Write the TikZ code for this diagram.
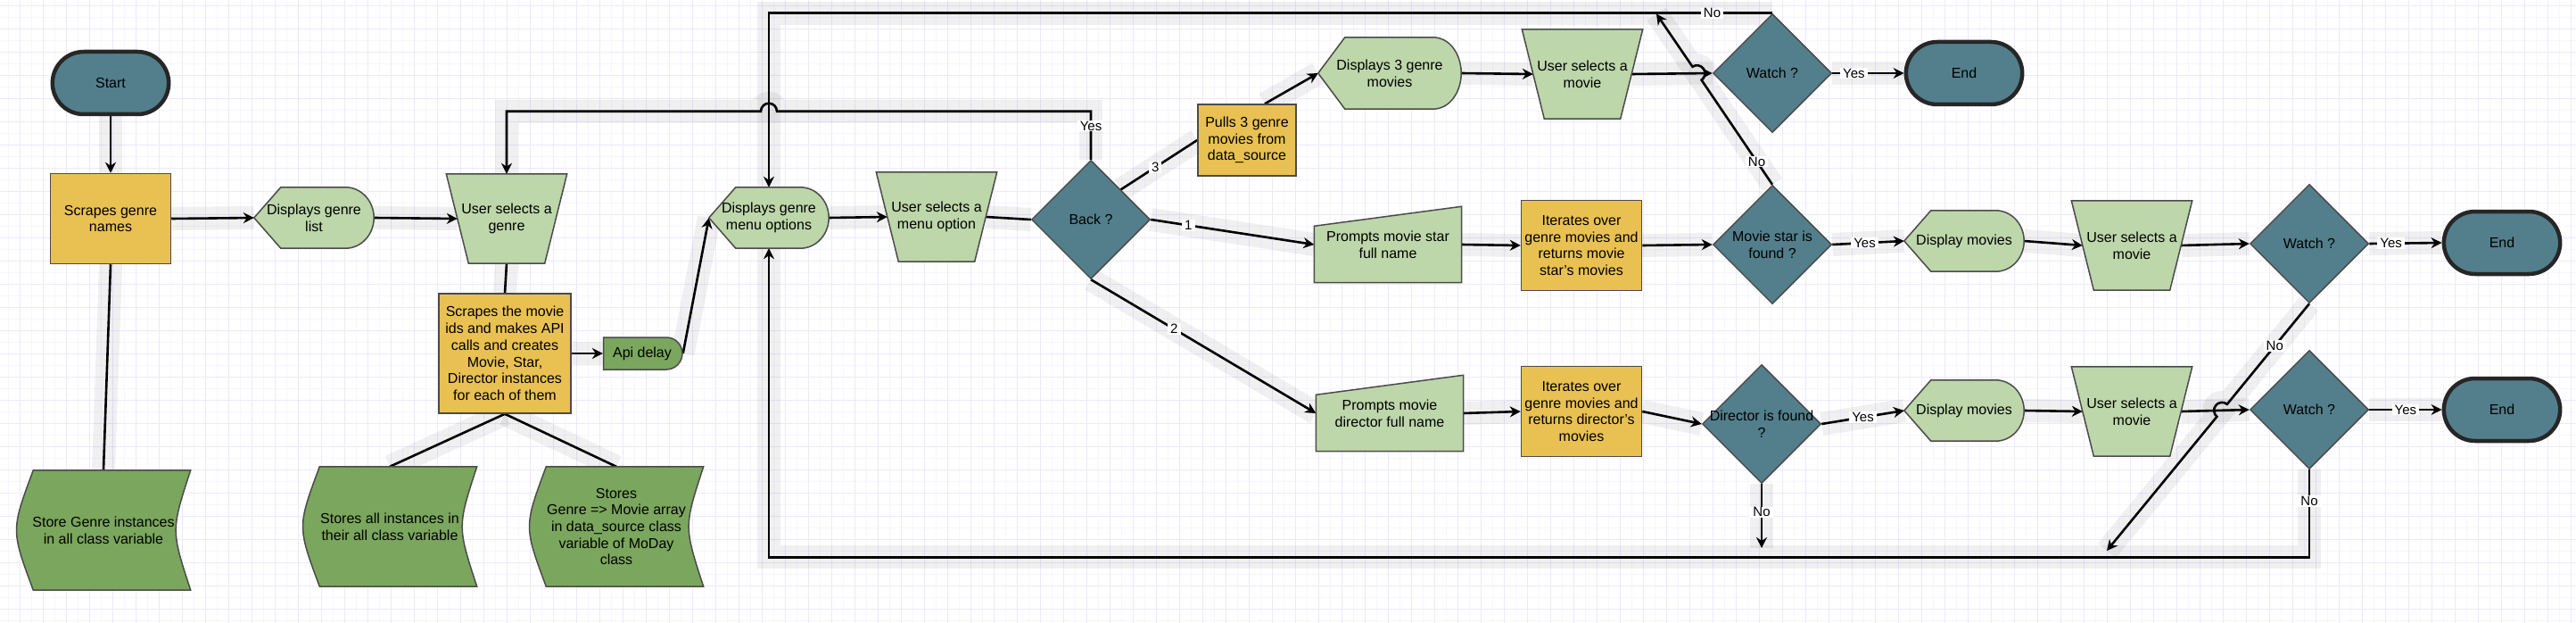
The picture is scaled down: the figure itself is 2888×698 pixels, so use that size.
\documentclass[tikz,border=0pt]{standalone}
\usepackage{fontspec}
\setmainfont{Liberation Sans}
\usetikzlibrary{arrows.meta,calc}
\usetikzlibrary{shapes.geometric,shapes.misc}
\tikzset{>={Stealth[length=12pt,width=12pt]}}
\definecolor{deskteal}{RGB}{83,127,140}
\definecolor{procyellow}{RGB}{233,193,82}
\definecolor{lightgreen}{RGB}{189,214,170}
\definecolor{darkgreen}{RGB}{123,166,93}
\definecolor{edgegrey}{RGB}{75,75,75}
\definecolor{gridmajor}{RGB}{235,233,252}
\definecolor{gridminor}{RGB}{246,245,254}
\newcommand\boxfont{\fontsize{16pt}{18.7pt}\selectfont}
\pgfdeclarelayer{grid}
\pgfdeclarelayer{links}
\pgfsetlayers{grid,links,main}
\tikzstyle{terminal} = [rounded rectangle, draw=black!85, line width=4.5pt,
    fill=deskteal, minimum width=137pt, minimum height=70pt, font=\boxfont]
\tikzstyle{process} = [rectangle, draw=edgegrey, line width=1.5pt, fill=procyellow,
    minimum width=135pt, minimum height=101pt, inner sep=2pt, align=center, font=\boxfont]
\tikzstyle{decision} = [diamond, aspect=1, draw=edgegrey, line width=1.5pt, fill=deskteal,
    minimum width=133pt, minimum height=133pt, inner sep=0pt, align=center, font=\boxfont]
\tikzstyle{delay} = [rounded rectangle, rounded rectangle west arc=none, draw=edgegrey,
    line width=1.5pt, fill=darkgreen, minimum width=95pt, minimum height=36pt, font=\boxfont]
\tikzstyle{outline} = [rectangle, inner sep=2pt, align=center, font=\boxfont]
\tikzstyle{display} = [outline, minimum width=134pt, minimum height=68pt]
\tikzstyle{userin} = [outline, minimum width=110pt, minimum height=100pt]
\tikzstyle{manin} = [outline, minimum width=165pt, minimum height=85pt]
\tikzstyle{stored} = [outline, minimum width=195pt, minimum height=134pt]
\tikzstyle{shapeline} = [draw=edgegrey, line width=1.5pt]
\tikzstyle{link} = [draw=black, line width=2.6pt,
    preaction={draw=black, opacity=.06, line width=26pt, arrows=-}]
\tikzstyle{lbl} = [fill=white, inner xsep=3pt, inner ysep=1pt, font=\fontsize{15pt}{17pt}\selectfont]
%outlines drawn from the anchors of a text node
\newcommand\dispshape[1]{%display
    \filldraw[shapeline,fill=lightgreen] (#1.west) -- ([xshift=30pt]#1.north west)
    -- ([xshift=-32pt]#1.north east) to[out=0,in=90] (#1.east)
    to[out=-90,in=0] ([xshift=-32pt]#1.south east) -- ([xshift=30pt]#1.south west) -- cycle;}
\newcommand\inshape[1]{%manual operation
    \filldraw[shapeline,fill=lightgreen] ([xshift=-12.5pt]#1.north west) -- ([xshift=12.5pt]#1.north east)
    -- ([xshift=-12.5pt]#1.south east) -- ([xshift=12.5pt]#1.south west) -- cycle;}
\newcommand\manshape[1]{%manual input
    \filldraw[shapeline,fill=lightgreen] (#1.south west) -- ([yshift=-22pt]#1.north west)
    -- (#1.north east) -- (#1.south east) -- cycle;}
\newcommand\storeshape[1]{%stored data
    \filldraw[shapeline,fill=darkgreen] ([xshift=19pt]#1.north west) -- (#1.north east)
    .. controls ([xshift=-22pt]#1.east) .. (#1.south east) -- ([xshift=19pt]#1.south west)
    .. controls ([xshift=-6pt]#1.west) .. ([xshift=19pt]#1.north west) -- cycle;}

\begin{document}
\begin{tikzpicture}[x=1pt,y=1pt]
\useasboundingbox (0,0) rectangle (2888,-698);
%grid paper
\begin{pgfonlayer}{grid}
    \fill[white] (0,0) rectangle (2888,-698);
    \foreach \x in {9.7,35.7,...,2888} {\draw[gridminor,line width=1pt] (\x,0) -- (\x,-698);}
    \foreach \y in {19.7,45.7,...,698} {\draw[gridminor,line width=1pt] (0,-\y) -- (2888,-\y);}
    \foreach \x in {22.7,48.7,...,2888} {\draw[gridmajor,line width=1.3pt] (\x,0) -- (\x,-698);}
    \foreach \y in {6.7,32.7,...,698} {\draw[gridmajor,line width=1.3pt] (0,-\y) -- (2888,-\y);}
\end{pgfonlayer}

%genres
\node[terminal] (start) at (124,-93) {Start};
\node[process] (sgn) at (124,-245) {Scrapes genre\\names};
\node[display] (dgl) at (352,-244) {Displays genre\\list};
\node[userin] (usg) at (568,-245) {User selects a\\genre};
\node[process,minimum width=148pt,minimum height=134pt] (smi) at (566,-396)
    {Scrapes the movie\\ids and makes API\\calls and creates\\Movie, Star,\\Director instances\\for each of them};
\node[delay] (api) at (720,-396) {Api delay};
\node[stored] (sgi) at (116,-594) {Store Genre instances\\in all class variable};
\node[stored] (sai) at (437,-590) {Stores all instances in\\their all class variable};
\node[stored] (sgm) at (691,-590) {Stores\\Genre => Movie array\\in data\_source class\\variable of MoDay\\class};

%menu
\node[display] (dmo) at (862,-244) {Displays genre\\menu options};
\node[userin] (usm) at (1050,-243) {User selects a\\menu option};
\node[decision] (back) at (1223,-246) {Back ?};
\node[process,minimum width=110pt,minimum height=80pt] (pul) at (1398,-157) {Pulls 3 genre\\movies from\\data\_source};
\node[display,minimum width=160pt,minimum height=80pt] (d3g) at (1558,-82) {Displays 3 genre\\movies};
\node[userin] (usa) at (1774,-83) {User selects a\\movie};
\node[decision] (wa1) at (1987,-82) {Watch ?};
\node[terminal] (end1) at (2202,-82) {End};

%movie star
\node[manin] (pms) at (1556,-274) {Prompts movie star\\full name};
\node[process] (ims) at (1773,-275) {Iterates over\\genre movies and\\returns movie\\star's movies};
\node[decision] (msf) at (1987,-274) {Movie star is\\found ?};
\node[display] (dm1) at (2202,-270) {Display movies};
\node[userin] (us1) at (2390,-275) {User selects a\\movie};
\node[decision] (wa2) at (2589,-273) {Watch ?};
\node[terminal] (end2) at (2805,-272) {End};

%director
\node[manin] (pmd) at (1558,-463) {Prompts movie\\director full name};
\node[process] (imd) at (1773,-461) {Iterates over\\genre movies and\\returns director's\\movies};
\node[decision] (dif) at (1975,-475) {\makebox[0pt]{Director is found}\\?};
\node[display] (dm2) at (2202,-460) {Display movies};
\node[userin] (us2) at (2390,-461) {User selects a\\movie};
\node[decision] (wa3) at (2589,-459) {Watch ?};
\node[terminal] (end3) at (2805,-459) {End};

\coordinate (tl) at (1857,-15.5);   %end of the star No
\coordinate (dn) at (1975,-614);    %end of the director No
\coordinate (wn) at (2362,-617);    %end of the Watch No
\coordinate (x1) at (intersection of msf.north--tl and usa.east--wa1.west);
\coordinate (x2) at (intersection of wa2.south--wn and us2.east--wa3.west);

\begin{pgfonlayer}{links}
    \draw[link,->] (start.south) -- (sgn.north);
    \draw[link,->] (sgn.east) -- (dgl.west);
    \draw[link,->] (dgl.east) -- (usg.west);
    \draw[link] (usg.south) -- (smi.north);
    \draw[link,->] (smi.east) -- (api.west);
    \draw[link] (sgn.south) -- (sgi.north);
    \draw[link] (smi.south) -- (sai.north);
    \draw[link] (smi.south) -- (sgm.north);
    \draw[link,->] (api.east) -- (dmo.west);
    \draw[link,->] (dmo.east) -- (usm.west);
    \draw[link] (usm.east) -- (back.west);
    %back to the genres, hopping over the menu loop
    \draw[link,->] (back.north) -- node[lbl,pos=.7]{Yes} ++(0,54) coordinate (yb)
        -- ($(yb -| dmo.north)+(9,0)$) arc[start angle=0,end angle=180,radius=9pt] -| (usg.north);
    \draw[link] (back.north east) -- node[lbl,pos=.45]{3} (pul.west);
    \draw[link,->] ([xshift=20pt]pul.north) -- (d3g.west);
    \draw[link,->] (d3g.east) -- (usa.west);
    \draw[link,->] (usa.east) -- (wa1.west);
    \draw[link,->] (wa1.east) -- node[lbl,pos=.3]{Yes} (end1.west);
    \draw[link,->] (wa1.north) -- node[lbl,pos=.06]{No} (wa1.north -| dmo.north) -- (dmo.north);
    \draw[link,->] (msf.north) -- node[lbl,pos=.22]{No} ($(x1)!9pt!(msf.north)$)
        arc[start angle=304.1,end angle=484.1,radius=9pt] -- (tl);
    \draw[link,->] (back.east) -- node[lbl,pos=.23]{1} (pms.west);
    \draw[link,->] (back.south) -- node[lbl,pos=.37]{2} (pmd.west);
    \draw[link,->] (pms.east) -- (ims.west);
    \draw[link,->] (ims.east) -- (msf.west);
    \draw[link,->] (msf.east) -- node[lbl,pos=.45]{Yes} (dm1.west);
    \draw[link,->] (dm1.east) -- (us1.west);
    \draw[link,->] (us1.east) -- (wa2.west);
    \draw[link,->] (wa2.east) -- node[lbl,pos=.3]{Yes} (end2.west);
    \draw[link,->] (pmd.east) -- (imd.west);
    \draw[link,->] (imd.east) -- (dif.west);
    \draw[link,->] (dif.east) -- node[lbl,pos=.5]{Yes} (dm2.west);
    \draw[link,->] (dif.south) -- node[lbl,pos=.44]{No} (dn);
    \draw[link,->] (dm2.east) -- (us2.west);
    \draw[link,->] (us2.east) -- (wa3.west);
    \draw[link,->] (wa3.east) -- node[lbl,pos=.5]{Yes} (end3.west);
    \draw[link,->] (wa2.south) -- node[lbl,pos=.42]{No} ($(x2)!9pt!(wa2.south)$)
        arc[start angle=50.6,end angle=230.6,radius=9pt] -- (wn);
    %back to the menu
    \draw[link,->] (wa3.south) -- node[lbl,pos=.36]{No} ++(0,-98) -| (dmo.south);
    %shape outlines under the texts
    \foreach \n in {dgl,dmo,d3g,dm1,dm2} {\dispshape{\n}}
    \foreach \n in {usg,usm,usa,us1,us2} {\inshape{\n}}
    \foreach \n in {pms,pmd} {\manshape{\n}}
    \foreach \n in {sgi,sai,sgm} {\storeshape{\n}}
\end{pgfonlayer}
\end{tikzpicture}
\end{document}
